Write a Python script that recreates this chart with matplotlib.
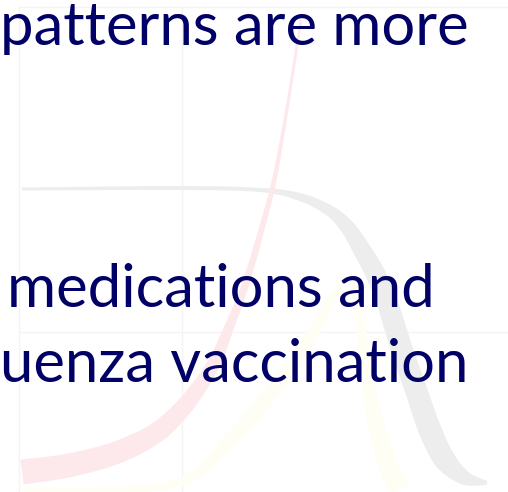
import numpy as np
import matplotlib
matplotlib.use("Agg")
import matplotlib.pyplot as plt

# background curves (pixel coords), centre line + band width
red_x = [22, 60, 100, 130, 160, 188, 213, 228, 240, 250, 260, 272, 280, 290, 301]
red_y = [472, 467, 458, 447, 430, 402, 365, 330, 300, 270, 235, 190, 150, 90, 20]
red_w = [25, 24, 23, 22, 20, 17, 13, 10, 8, 7, 6, 5, 4, 3, 3]

grey_x = [22, 180, 260, 300, 330, 348, 362, 376, 388, 402, 416, 430, 445, 465, 487]
grey_y = [189, 188, 190, 197, 211, 228, 250, 275, 305, 350, 390, 430, 460, 478, 483]
grey_w = [3, 4, 4, 8, 11, 15, 18, 20, 21, 22, 22, 23, 22, 14, 4]

yel_x = [22, 170, 230, 265, 300, 325, 340, 348, 357, 365, 375, 390, 400]
yel_y = [490, 485, 440, 400, 355, 310, 285, 278, 300, 360, 420, 470, 490]
yel_w = [4, 8, 14, 16, 14, 10, 6, 4, 6, 12, 16, 20, 20]

# faint grid of the underlying chart
grid_x = [19, 182]
grid_y = [7, 332]

lines = ["patterns are more", "medications and", "uenza vaccination"]
line_x = [0, 7, 0]
line_y = [45, 307, 382]


def smooth(v, k=12):
    # catmull-rom through the read points, only for drawing
    v = np.asarray(v, float)
    p = np.concatenate([[2 * v[0] - v[1]], v, [2 * v[-1] - v[-2]]])
    t = np.linspace(0, 1, k, endpoint=False)[:, None]
    p0, p1, p2, p3 = p[:-3], p[1:-2], p[2:-1], p[3:]
    out = 0.5 * (2 * p1 + (-p0 + p2) * t + (2 * p0 - 5 * p1 + 4 * p2 - p3) * t ** 2
                 + (-p0 + 3 * p1 - 3 * p2 + p3) * t ** 3)
    return np.concatenate([out.T.ravel(), [v[-1]]])


def band(ax, x, y, w, color):
    x = smooth(x); y = smooth(y)
    w = np.interp(np.linspace(0, 1, len(x)), np.linspace(0, 1, len(w)), w)
    dx = np.gradient(x); dy = np.gradient(y)
    n = np.hypot(dx, dy)
    nx, ny = -dy / n, dx / n
    px = np.concatenate([x + nx * w / 2, (x - nx * w / 2)[::-1]])
    py = np.concatenate([y + ny * w / 2, (y - ny * w / 2)[::-1]])
    ax.fill(px, py, color=color, lw=0, zorder=1)


fig = plt.figure(figsize=(5.08, 4.92), dpi=100)
ax = fig.add_axes([0, 0, 1, 1])
ax.set_xlim(0, 508)
ax.set_ylim(492, 0)
ax.axis("off")

for gx in grid_x:
    ax.plot([gx, gx], [7, 492], color="#f4f4f4", lw=1, zorder=0)
for gy in grid_y:
    ax.plot([19, 508], [gy, gy], color="#f4f4f4", lw=1, zorder=0)

band(ax, yel_x, yel_y, yel_w, "#fffef4")
band(ax, grey_x, grey_y, grey_w, "#ededed")
band(ax, red_x, red_y, red_w, "#fde9ec")

for t, tx, ty in zip(lines, line_x, line_y):
    ax.text(tx, ty, t, fontsize=43, family="Lato", color="#000066",
            ha="left", va="baseline", zorder=3)

fig.savefig("out.png", dpi=100)
